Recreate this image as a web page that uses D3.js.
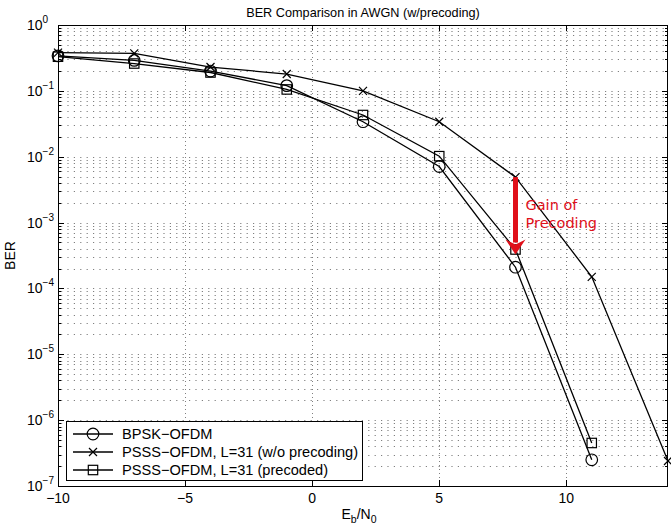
<!DOCTYPE html>
<html>
<head>
<meta charset="utf-8">
<script src="https://cdn.jsdelivr.net/npm/d3@7"></script>
<style>
  body { margin: 0; background: #fff; }
  svg { display: block; font-family: "Liberation Sans", Arial, sans-serif; }
</style>
</head>
<body>
<div id="chart"></div>
<script>
var width = 671;
var height = 526;
var margin = {top: 25, right: 3, bottom: 40, left: 58};

// data
var ebno = [-10, -7, -4, -1, 2, 5, 8, 11, 14];
var berBpsk = [0.34, 0.29, 0.20, 0.12, 0.034, 0.0071, 2.1e-4, 2.5e-7];
var berNoPrecoding = [0.38, 0.37, 0.23, 0.18, 0.10, 0.034, 0.0049, 1.5e-4, 2.4e-7];
var berPrecoded = [0.33, 0.26, 0.19, 0.105, 0.043, 0.0102, 3.9e-4, 4.5e-7];
var seriesNames = ["BPSK\u2212OFDM", "PSSS\u2212OFDM, L=31 (w/o precoding)", "PSSS\u2212OFDM, L=31 (precoded)"];
var xTicks = [-10, -5, 0, 5, 10];
var yExponents = [0, -1, -2, -3, -4, -5, -6, -7];
var gainFrom = {x: 8, y: 0.0049};
var gainTo = {x: 8, y: 3.9e-4};

var series = [
    {name: seriesNames[0], values: berBpsk, marker: "circle"},
    {name: seriesNames[1], values: berNoPrecoding, marker: "cross"},
    {name: seriesNames[2], values: berPrecoded, marker: "square"}
];

var svg = d3.select("#chart")
    .append("svg")
    .attr("width", width)
    .attr("height", height);

var x = d3.scaleLinear()
    .domain([-10, 14])
    .range([margin.left, width - margin.right]);

var y = d3.scaleLog()
    .domain([1e-7, 1])
    .range([height - margin.bottom, margin.top]);

var x0 = x.range()[0], x1 = x.range()[1];
var y0 = y.range()[0], y1 = y.range()[1];

// minor log values
var minorVals = [];
yExponents.slice(1).forEach(function(e) {
    for (var k = 2; k <= 9; k++) minorVals.push(k * Math.pow(10, e));
});

// grid
var grid = svg.append("g")
    .attr("stroke", "#808080")
    .attr("stroke-width", 1)
    .attr("stroke-dasharray", "1.2,5.2");

grid.selectAll(".hgrid")
    .data(minorVals.concat(yExponents.map(e => Math.pow(10, e)).filter(v => v < 1 && v > 1e-7)))
    .enter()
    .append("line")
    .attr("x1", x0 + 3)
    .attr("x2", x1)
    .attr("y1", d => Math.round(y(d)) + 0.5)
    .attr("y2", d => Math.round(y(d)) + 0.5);

grid.selectAll(".vgrid")
    .data(xTicks.slice(1))
    .enter()
    .append("line")
    .attr("x1", d => Math.round(x(d)) + 0.5)
    .attr("x2", d => Math.round(x(d)) + 0.5)
    .attr("y1", y1)
    .attr("y2", y0)
    .attr("stroke-dasharray", "1,3");

// axes with inward ticks
var axes = svg.append("g").attr("stroke", "#000").attr("stroke-width", 1);

axes.selectAll(".xt")
    .data(xTicks)
    .enter()
    .append("line")
    .attr("x1", d => Math.round(x(d)) + 0.5)
    .attr("x2", d => Math.round(x(d)) + 0.5)
    .attr("y1", y0)
    .attr("y2", y0 - 6);

axes.selectAll(".xtt")
    .data(xTicks)
    .enter()
    .append("line")
    .attr("x1", d => Math.round(x(d)) + 0.5)
    .attr("x2", d => Math.round(x(d)) + 0.5)
    .attr("y1", y1)
    .attr("y2", y1 + 6);

axes.selectAll(".yt")
    .data(yExponents)
    .enter()
    .append("line")
    .attr("x1", x0)
    .attr("x2", x0 + 6)
    .attr("y1", d => Math.round(y(Math.pow(10, d))) + 0.5)
    .attr("y2", d => Math.round(y(Math.pow(10, d))) + 0.5);

axes.selectAll(".ytr")
    .data(yExponents)
    .enter()
    .append("line")
    .attr("x1", x1)
    .attr("x2", x1 - 6)
    .attr("y1", d => Math.round(y(Math.pow(10, d))) + 0.5)
    .attr("y2", d => Math.round(y(Math.pow(10, d))) + 0.5);

axes.selectAll(".ym")
    .data(minorVals)
    .enter()
    .append("line")
    .attr("x1", x0)
    .attr("x2", x0 + 3)
    .attr("y1", d => Math.round(y(d)) + 0.5)
    .attr("y2", d => Math.round(y(d)) + 0.5);

axes.selectAll(".ymr")
    .data(minorVals)
    .enter()
    .append("line")
    .attr("x1", x1)
    .attr("x2", x1 - 3)
    .attr("y1", d => Math.round(y(d)) + 0.5)
    .attr("y2", d => Math.round(y(d)) + 0.5);

svg.append("rect")
    .attr("x", x0 + 0.5)
    .attr("y", y1 + 0.5)
    .attr("width", x1 - x0 - 1)
    .attr("height", y0 - y1)
    .attr("fill", "none")
    .attr("stroke", "#000")
    .attr("stroke-width", 1);

// tick labels
svg.selectAll(".xl")
    .data(xTicks)
    .enter()
    .append("text")
    .attr("x", d => x(d))
    .attr("y", y0 + 17)
    .attr("text-anchor", "middle")
    .style("font-size", "14px")
    .text(d => d < 0 ? "\u2212" + Math.abs(d) : d);

var yl = svg.selectAll(".yl")
    .data(yExponents)
    .enter()
    .append("text")
    .attr("x", x0 - 31)
    .attr("y", d => y(Math.pow(10, d)) + 5)
    .attr("text-anchor", "start")
    .style("font-size", "14px");
yl.append("tspan").text("10");
yl.append("tspan")
    .attr("dy", -7)
    .style("font-size", "10px")
    .text(d => d < 0 ? "\u2212" + Math.abs(d) : d);

// titles
svg.append("text")
    .attr("x", (x0 + x1) / 2)
    .attr("y", 17)
    .attr("text-anchor", "middle")
    .style("font-size", "12.7px")
    .text("BER Comparison in AWGN (w/precoding)");

var xlab = svg.append("text")
    .attr("x", (x0 + x1) / 2 - 4)
    .attr("y", 519)
    .attr("text-anchor", "middle")
    .style("font-size", "14px");
xlab.append("tspan").text("E");
xlab.append("tspan").attr("dy", 4).style("font-size", "10.5px").text("b");
xlab.append("tspan").attr("dy", -4).text("/N");
xlab.append("tspan").attr("dy", 4).style("font-size", "10.5px").text("0");

svg.append("text")
    .attr("transform", "translate(15," + ((y0 + y1) / 2) + ") rotate(-90)")
    .attr("text-anchor", "middle")
    .style("font-size", "14px")
    .text("BER");

// series
var line = d3.line()
    .x((d, i) => x(ebno[i]))
    .y(d => y(d));

function drawMarker(g, type, cx, cy) {
    if (type === "circle") {
        g.append("circle").attr("cx", cx).attr("cy", cy).attr("r", 5.8)
            .attr("fill", "none").attr("stroke", "#000").attr("stroke-width", 1.2);
    } else if (type === "square") {
        g.append("rect").attr("x", cx - 4.7).attr("y", cy - 4.7).attr("width", 9.4).attr("height", 9.4)
            .attr("fill", "none").attr("stroke", "#000").attr("stroke-width", 1.2);
    } else {
        g.append("path").attr("d", "M" + (cx - 4) + "," + (cy - 4) + "L" + (cx + 4) + "," + (cy + 4) +
            "M" + (cx - 4) + "," + (cy + 4) + "L" + (cx + 4) + "," + (cy - 4))
            .attr("fill", "none").attr("stroke", "#000").attr("stroke-width", 1.2);
    }
}

var plot = svg.append("g");
series.forEach(function(s) {
    plot.append("path")
        .attr("d", line(s.values))
        .attr("fill", "none")
        .attr("stroke", "#000")
        .attr("stroke-width", 1.3);
    s.values.forEach(function(v, i) {
        drawMarker(plot, s.marker, x(ebno[i]), y(v));
    });
});

// gain annotation
var red = "#e0101a";
var ax = x(gainFrom.x), ayTop = y(gainFrom.y), ayTip = y(gainTo.y) + 5;
svg.append("line")
    .attr("x1", ax).attr("x2", ax)
    .attr("y1", ayTop).attr("y2", ayTip - 12)
    .attr("stroke", red).attr("stroke-width", 5);
svg.append("path")
    .attr("d", "M" + (ax - 10) + "," + (ayTip - 15) + "L" + ax + "," + ayTip + "L" + (ax + 10) + "," + (ayTip - 15) + "L" + ax + "," + (ayTip - 10) + "Z")
    .attr("fill", red);
svg.append("text")
    .attr("x", ax + 10).attr("y", ayTop + 33)
    .attr("fill", red)
    .style("font-family", "'DejaVu Sans', sans-serif")
    .style("font-size", "14.5px").text("Gain of");
svg.append("text")
    .attr("x", ax + 10).attr("y", ayTop + 51)
    .attr("fill", red)
    .style("font-family", "'DejaVu Sans', sans-serif")
    .style("font-size", "14.5px").text("Precoding");

// legend
var lg = svg.append("g");
lg.append("rect")
    .attr("x", 66.5).attr("y", 421.5).attr("width", 296).attr("height", 59)
    .attr("fill", "#fff").attr("stroke", "#000").attr("stroke-width", 1);
series.forEach(function(s, i) {
    var ly = 434 + i * 18;
    lg.append("line").attr("x1", 73).attr("x2", 113).attr("y1", ly).attr("y2", ly)
        .attr("stroke", "#000").attr("stroke-width", 1.3);
    drawMarker(lg, s.marker, 93, ly);
    lg.append("text").attr("x", 122).attr("y", ly + 5)
        .style("font-size", "14.6px").text(s.name);
});
</script>
</body>
</html>
